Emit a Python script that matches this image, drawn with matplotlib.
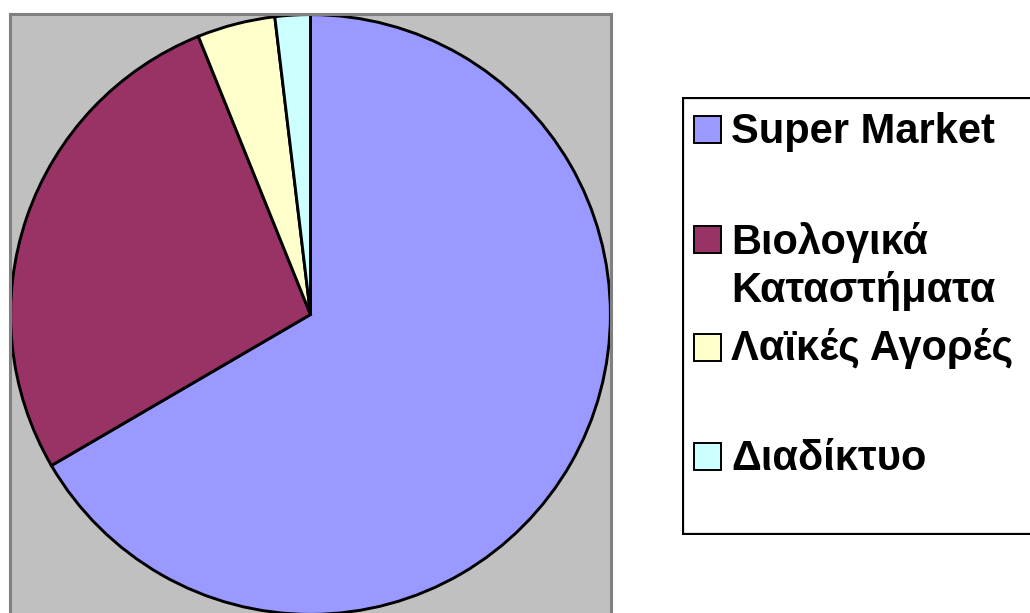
"""Pie chart of purchase channels with a boxed legend on the right."""

import matplotlib.pyplot as plt
from matplotlib.patches import Rectangle

# Data (percent of respondents)
labels = ['Super Market', 'Βιολογικά\nΚαταστήματα', 'Λαϊκές Αγορές', 'Διαδίκτυο']
shares = [66.6, 27.3, 4.2, 1.9]
colors = ['#9999FF', '#993366', '#FFFFCC', '#CCFFFF']

W, H = 1030, 613
fig = plt.figure(figsize=(W / 100, H / 100), dpi=100)
fig.patch.set_facecolor('white')

# Plot area (grey square, the bottom edge runs off the picture)
ax = fig.add_axes([10 / W, -2 / H, 601 / W, 601 / H])
ax.pie(shares, colors=colors, startangle=90, counterclock=False, radius=1.0,
       wedgeprops=dict(edgecolor='black', linewidth=2.1))
ax.set_frame_on(True)
ax.set_facecolor('#C0C0C0')
for side in ['left', 'top', 'right', 'bottom']:
    ax.spines[side].set_color('#808080')
    ax.spines[side].set_linewidth(2.2)
ax.set_xlim(-1.002, 1.002)
ax.set_ylim(-1.002, 1.002)
ax.set_xticks([])
ax.set_yticks([])

# Legend drawn by hand, in pixel units of its own box
lx0, ly0, lx1, ly1 = 682, 97, 1045, 535
lax = fig.add_axes([lx0 / W, (H - ly1) / H, (lx1 - lx0) / W, (ly1 - ly0) / H])
lax.set_xlim(lx0, lx1)
lax.set_ylim(ly1, ly0)
lax.axis('off')
lax.add_patch(Rectangle((lx0 + 1, ly0 + 1), lx1 - lx0, ly1 - ly0 - 2,
                        facecolor='white', edgecolor='black', linewidth=1.6))

marker_bottoms = [143, 253, 361, 470]
text_baselines = [143, 302, 360, 470]   # last line of each label
for label, color, mb, tb in zip(labels, colors, marker_bottoms, text_baselines):
    lax.add_patch(Rectangle((694, mb - 27), 27, 27, facecolor=color,
                            edgecolor='black', linewidth=1.4))
    lax.text(731, tb, label, fontsize=30, fontweight='bold',
             family=['Liberation Sans', 'DejaVu Sans'], va='baseline',
             ha='left', linespacing=1.27)

fig.savefig('out.png', dpi=100)
